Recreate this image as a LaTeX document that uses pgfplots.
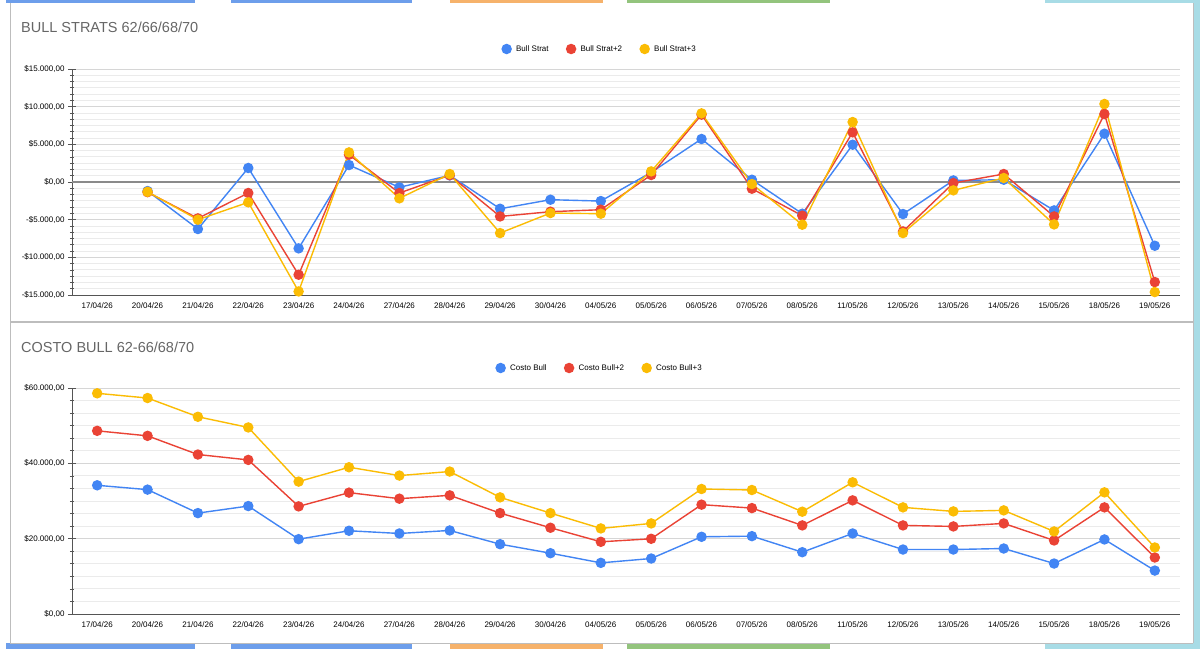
\documentclass[border=0pt]{standalone}
\usepackage{pgfplots}
\pgfplotsset{compat=1.18}
\usepackage{fontspec}
\setmainfont{Liberation Sans}
\definecolor{cblue}{HTML}{4285F4}
\definecolor{cred}{HTML}{EA4335}
\definecolor{cyellow}{HTML}{FBBC04}
\definecolor{titlegray}{HTML}{666666}
\definecolor{axisgray}{HTML}{555555}
\definecolor{zerogray}{HTML}{8A8A8A}
\definecolor{gridmaj}{HTML}{D6D6D6}
\definecolor{gridmin}{HTML}{EBEBEB}
\definecolor{hblue}{HTML}{6D9EEB}
\definecolor{horange}{HTML}{F6B26B}
\definecolor{hgreen}{HTML}{93C47D}
\definecolor{hcyan}{HTML}{A8DCE6}
\definecolor{bordergray}{HTML}{BDBDBD}
\pgfplotsset{
 mystyle/.style={
  width=1108pt, height=226pt, scale only axis,
  xmin=-0.5, xmax=21.5,
  xtick={0,...,21},
  xticklabels={17/04/26,20/04/26,21/04/26,22/04/26,23/04/26,24/04/26,27/04/26,28/04/26,29/04/26,30/04/26,04/05/26,05/05/26,06/05/26,07/05/26,08/05/26,11/05/26,12/05/26,13/05/26,14/05/26,15/05/26,18/05/26,19/05/26},
  xtick style={draw=none},
  scaled y ticks=false,
  axis lines=left, axis line style={-, draw=axisgray, line width=0.9pt},
  major tick length=8pt, minor tick length=4pt,
  ytick style={draw=axisgray, line width=0.7pt},
  minor y tick num=5,
  ymajorgrids, yminorgrids,
  major grid style={draw=gridmaj, line width=0.8pt},
  minor grid style={draw=gridmin, line width=0.8pt},
  tick label style={font=\fontsize{8}{9}\selectfont, text=black},
  clip=false,
  legend columns=3,
  legend style={draw=none, fill=none, at={(0.4765,1)}, anchor=center, yshift=20pt,
    font=\fontsize{8}{9}\selectfont, /tikz/every even column/.append style={column sep=16pt},
    /tikz/every odd column/.append style={column sep=3pt}},
  legend image code/.code={\draw[##1] plot coordinates {(0.12cm,0cm)};},
  every axis plot/.append style={line width=1.4pt, mark=*, mark size=4.5pt},
 }
}
\begin{document}
\begin{tikzpicture}
\begin{scope}[x=1pt,y=1pt]
\useasboundingbox (0,0) rectangle (1200,649);
\fill[white] (0,0) rectangle (1200,649);
% spreadsheet surroundings
\fill[hcyan] (1193,0) rectangle (1200,649);
\foreach \a/\b/\c in {6/195/hblue,231/412/hblue,450/603/horange,627/830/hgreen,1045/1200/hcyan}{
  \fill[\c] (\a,646) rectangle (\b,649);
  \fill[\c] (\a,0) rectangle (\b,6);
}
\draw[bordergray, line width=1pt] (10,6) -- (10,646);
\draw[bordergray, line width=1pt] (1193,6) -- (1193,646);
\draw[bordergray, line width=1.5pt] (10,327) -- (1193,327);
\draw[bordergray, line width=1pt] (10,6) -- (1193,6);
% titles
\node[anchor=west, text=titlegray, font=\fontsize{14.5}{18}\selectfont, inner sep=0pt] at (21,622) {BULL STRATS 62/66/68/70};
\node[anchor=west, text=titlegray, font=\fontsize{14.5}{18}\selectfont, inner sep=0pt] at (21,302) {COSTO BULL 62-66/68/70};
\end{scope}

\begin{axis}[mystyle, at={(72pt,354pt)}, anchor=south west,
  ymin=-15000, ymax=15000,
  ytick={-15000,-10000,-5000,0,5000,10000,15000},
  yticklabels={{-\$15.000,00},{-\$10.000,00},{-\$5.000,00},{\$0,00},{\$5.000,00},{\$10.000,00},{\$15.000,00}}]
\addplot[forget plot, no markers, draw=zerogray, line width=1.1pt] coordinates {(-0.5,0) (21.5,0)};
\addplot[cblue, mark options={fill=cblue, draw=cblue}] coordinates {
(1,-1200) (2,-6240) (3,1860) (4,-8810) (5,2250) (6,-710) (7,880) (8,-3550) (9,-2350) (10,-2530)
(11,1280) (12,5710) (13,300) (14,-4210) (15,4950) (16,-4250) (17,210) (18,300) (19,-3770) (20,6410) (21,-8460)};
\addlegendentry{Bull Strat}
\addplot[cred, mark options={fill=cred, draw=cred}] coordinates {
(1,-1350) (2,-4830) (3,-1460) (4,-12310) (5,3620) (6,-1460) (7,900) (8,-4570) (9,-3940) (10,-3680)
(11,930) (12,8940) (13,-890) (14,-4470) (15,6590) (16,-6560) (17,-140) (18,1060) (19,-4570) (20,9030) (21,-13280)};
\addlegendentry{Bull Strat+2}
\addplot[cyellow, mark options={fill=cyellow, draw=cyellow}] coordinates {
(1,-1300) (2,-5000) (3,-2700) (4,-14530) (5,3930) (6,-2170) (7,1060) (8,-6780) (9,-4120) (10,-4210)
(11,1410) (12,9110) (13,-270) (14,-5670) (15,7960) (16,-6780) (17,-1110) (18,530) (19,-5630) (20,10360) (21,-14610)};
\addlegendentry{Bull Strat+3}
\end{axis}

\begin{axis}[mystyle, at={(72pt,35pt)}, anchor=south west,
  ymin=0, ymax=60000,
  ytick={0,20000,40000,60000},
  yticklabels={{\$0,00},{\$20.000,00},{\$40.000,00},{\$60.000,00}}]
\addplot[cblue, mark options={fill=cblue, draw=cblue}] coordinates {
(0,34170) (1,33020) (2,26790) (3,28660) (4,19870) (5,22100) (6,21380) (7,22180) (8,18540) (9,16140) (10,13580)
(11,14730) (12,20500) (13,20670) (14,16410) (15,21380) (16,17120) (17,17120) (18,17390) (19,13400) (20,19790) (21,11530)};
\addlegendentry{Costo Bull}
\addplot[cred, mark options={fill=cred, draw=cred}] coordinates {
(0,48630) (1,47300) (2,42340) (3,40910) (4,28570) (5,32220) (6,30620) (7,31500) (8,26790) (9,22900) (10,19170)
(11,19970) (12,29030) (13,28120) (14,23520) (15,30170) (16,23520) (17,23250) (18,24050) (19,19520) (20,28310) (21,15000)};
\addlegendentry{Costo Bull+2}
\addplot[cyellow, mark options={fill=cyellow, draw=cyellow}] coordinates {
(0,58590) (1,57340) (2,52360) (3,49530) (4,35150) (5,38960) (6,36750) (7,37820) (8,30970) (9,26790) (10,22720)
(11,24050) (12,33190) (13,32920) (14,27160) (15,34970) (16,28310) (17,27240) (18,27510) (19,21920) (20,32300) (21,17660)};
\addlegendentry{Costo Bull+3}
\end{axis}
\end{tikzpicture}
\end{document}
